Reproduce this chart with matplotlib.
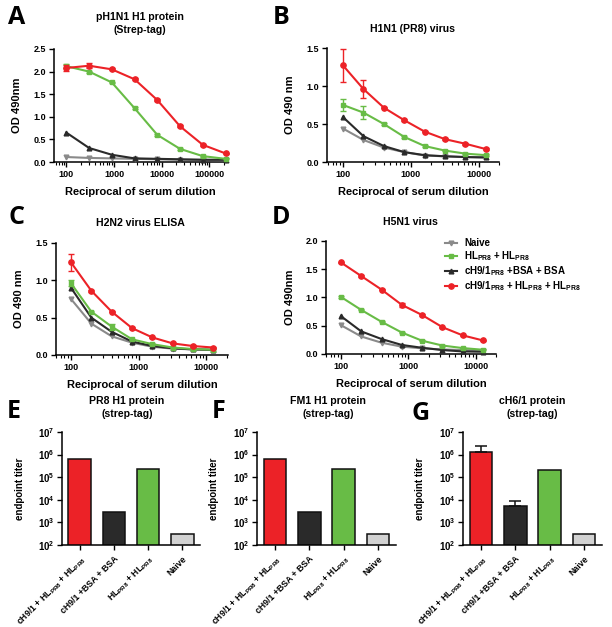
import matplotlib
matplotlib.use("Agg")
import matplotlib.pyplot as plt
import numpy as np
from matplotlib.ticker import FixedLocator, FixedFormatter, LogLocator, NullFormatter

plt.rcParams['font.family'] = ['Liberation Sans', 'DejaVu Sans']
plt.rcParams['font.weight'] = 'bold'
plt.rcParams['mathtext.fontset'] = 'custom'
plt.rcParams['mathtext.rm'] = 'Liberation Sans'
plt.rcParams['mathtext.bf'] = 'Liberation Sans:bold'
plt.rcParams['mathtext.it'] = 'Liberation Sans:italic'

W, H = 612, 627

# ---------------- data ----------------
dil3 = [100, 300, 900, 2700, 8100, 24300, 72900, 218700]
dil2 = [100, 200, 400, 800, 1600, 3200, 6400, 12800]

series_names = ["Naive",
                r"HL$_{\mathbf{PR8}}$ + HL$_{\mathbf{PR8}}$",
                r"cH9/1$_{\mathbf{PR8}}$ +BSA + BSA",
                r"cH9/1$_{\mathbf{PR8}}$ + HL$_{\mathbf{PR8}}$ + HL$_{\mathbf{PR8}}$"]

A_naive = [0.11, 0.09, 0.08, 0.07, 0.06, 0.05, 0.045, 0.04]
A_hl = [2.12, 2.00, 1.76, 1.19, 0.60, 0.29, 0.13, 0.07]
A_bsa = [0.65, 0.31, 0.16, 0.08, 0.07, 0.06, 0.05, 0.05]
A_ch = [2.08, 2.13, 2.05, 1.83, 1.37, 0.79, 0.38, 0.19]
A_ch_err = [0.07, 0.05, 0.02, 0.02, 0.02, 0.02, 0.02, 0.02]
A_hl_err = [0.04, 0.02, 0.02, 0.02, 0.02, 0.02, 0.01, 0.01]

B_naive = [0.44, 0.29, 0.19, 0.13, 0.085, 0.075, 0.065, 0.06]
B_hl = [0.75, 0.65, 0.50, 0.33, 0.21, 0.15, 0.11, 0.09]
B_bsa = [0.59, 0.34, 0.21, 0.13, 0.09, 0.075, 0.065, 0.06]
B_ch = [1.27, 0.96, 0.715, 0.55, 0.40, 0.30, 0.24, 0.17]
B_ch_err = [0.215, 0.115, 0.01, 0.01, 0.01, 0.01, 0.01, 0.01]
B_hl_err = [0.075, 0.09, 0.01, 0.01, 0.01, 0.01, 0.01, 0.01]

C_naive = [0.75, 0.42, 0.25, 0.165, 0.11, 0.085, 0.075, 0.065]
C_hl = [0.96, 0.58, 0.38, 0.21, 0.145, 0.10, 0.08, 0.07]
C_bsa = [0.90, 0.50, 0.31, 0.18, 0.12, 0.09, 0.075, 0.07]
C_ch = [1.24, 0.86, 0.58, 0.36, 0.235, 0.155, 0.12, 0.10]
C_ch_err = [0.11, 0.01, 0.01, 0.01, 0.01, 0.01, 0.01, 0.01]
C_hl_err = [0.04, 0.01, 0.04, 0.01, 0.01, 0.01, 0.01, 0.01]

D_naive = [0.51, 0.31, 0.20, 0.13, 0.10, 0.08, 0.07, 0.06]
D_hl = [1.01, 0.78, 0.57, 0.38, 0.235, 0.15, 0.105, 0.075]
D_bsa = [0.67, 0.40, 0.265, 0.16, 0.11, 0.07, 0.045, 0.04]
D_ch = [1.62, 1.38, 1.14, 0.87, 0.69, 0.475, 0.33, 0.24]
D_ch_err = [0.01, 0.01, 0.01, 0.04, 0.01, 0.01, 0.01, 0.01]
D_hl_err = [0.02, 0.01, 0.01, 0.01, 0.01, 0.01, 0.01, 0.01]

bar_labels = [r"cH9/1 + HL$_{\mathrm{PR8}}$ + HL$_{\mathrm{PR8}}$",
              "cH9/1 +BSA + BSA",
              r"HL$_{\mathrm{PR8}}$ + HL$_{\mathrm{PR8}}$",
              "Naive"]
E_titer = [6.6e5, 2.8e3, 2.2e5, 3.1e2]
F_titer = [6.6e5, 2.8e3, 2.2e5, 3.0e2]
G_titer = [1.35e6, 5.5e3, 2.15e5, 3.0e2]
G_err_up = [0.95e6, 3.6e3, 0, 0]

RED = '#ec2227'
GREEN = '#68bc46'
BLACK = '#2a2a2a'
GRAY = '#8a8a8a'
LIGHT = '#d2d2d2'


def box(l, t, r, b):
    return [l / W, 1 - b / H, (r - l) / W, (b - t) / H]


fig = plt.figure(figsize=(W / 100, H / 100), dpi=100)


def style_axes(ax, labelsize=6.5):
    for s in ['top', 'right']:
        ax.spines[s].set_visible(False)
    for s in ['left', 'bottom']:
        ax.spines[s].set_linewidth(1.1)
    ax.tick_params(which='major', direction='out', length=3.5, width=1.0,
                   labelsize=labelsize, pad=2)
    ax.tick_params(which='minor', direction='out', length=2, width=0.8)
    for lab in ax.get_xticklabels() + ax.get_yticklabels():
        lab.set_fontweight('bold')


def line_panel(rect, x, naive, hl, bsa, ch, ch_err, hl_err, xlim, ylim,
               yticks, xticks, ylabel):
    ax = fig.add_axes(box(*rect))
    ax.set_xscale('log')
    lw = 1.5
    ms = 3.4
    ax.errorbar(x, naive, color=GRAY, marker='v', ms=ms, lw=lw, zorder=3,
                clip_on=False)
    ax.errorbar(x, bsa, color=BLACK, marker='^', ms=ms, lw=lw, zorder=4,
                clip_on=False)
    ax.errorbar(x, hl, yerr=hl_err, color=GREEN, marker='s', ms=ms, lw=lw,
                capsize=2, elinewidth=1, zorder=5, clip_on=False)
    ax.errorbar(x, ch, yerr=ch_err, color=RED, marker='o', ms=ms + 0.4, lw=lw,
                capsize=2, elinewidth=1, zorder=6, clip_on=False)
    ax.set_xlim(*xlim)
    ax.set_ylim(*ylim)
    ax.set_yticks(yticks)
    ax.set_yticklabels([f"{v:.1f}" for v in yticks])
    ax.xaxis.set_major_locator(FixedLocator(xticks))
    ax.xaxis.set_major_formatter(FixedFormatter([str(v) for v in xticks]))
    ax.xaxis.set_minor_locator(LogLocator(base=10, subs=np.arange(2, 10)))
    ax.xaxis.set_minor_formatter(NullFormatter())
    style_axes(ax)
    ax.set_xlabel("Reciprocal of serum dilution", fontsize=8, fontweight='bold')
    ax.xaxis.set_label_coords(0.5, -0.22)
    ax.set_ylabel(ylabel, fontsize=8, fontweight='bold')
    ax.yaxis.set_label_coords(-0.185, 0.5)
    return ax


axA = line_panel((54, 49, 227, 162), dil3, A_naive, A_hl, A_bsa, A_ch,
                 A_ch_err, A_hl_err, (55, 235000), (0, 2.5),
                 [0.0, 0.5, 1.0, 1.5, 2.0, 2.5], [100, 1000, 10000, 100000],
                 "OD 490nm")
axB = line_panel((327, 48, 499, 162), dil2, B_naive, B_hl, B_bsa, B_ch,
                 B_ch_err, B_hl_err, (58, 20000), (0, 1.5),
                 [0.0, 0.5, 1.0, 1.5], [100, 1000, 10000], "OD 490 nm")
axC = line_panel((56, 243, 228, 355), dil2, C_naive, C_hl, C_bsa, C_ch,
                 C_ch_err, C_hl_err, (60, 21000), (0, 1.5),
                 [0.0, 0.5, 1.0, 1.5], [100, 1000, 10000], "OD 490 nm")
axD = line_panel((326, 241, 496, 354), dil2, D_naive, D_hl, D_bsa, D_ch,
                 D_ch_err, D_hl_err, (60, 20000), (0, 2.0),
                 [0.0, 0.5, 1.0, 1.5, 2.0], [100, 1000, 10000], "OD 490nm")

# legend (in panel D)
handles = [
    plt.Line2D([], [], color=GRAY, marker='v', ms=3.4, lw=1.5),
    plt.Line2D([], [], color=GREEN, marker='s', ms=3.4, lw=1.5),
    plt.Line2D([], [], color=BLACK, marker='^', ms=3.4, lw=1.5),
    plt.Line2D([], [], color=RED, marker='o', ms=3.8, lw=1.5),
]
fig.legend(handles, series_names, loc='upper left',
           bbox_to_anchor=(445 / W, 1 - 238 / H), frameon=False,
           prop={'size': 7, 'weight': 'bold'}, handlelength=1.2,
           handletextpad=0.8, labelspacing=0.12, borderaxespad=0,
           borderpad=0)


def title(x, y, s, size=7.6):
    fig.text(x / W, 1 - y / H, s, ha='center', va='center', fontsize=size,
             fontweight='bold')


title(140, 17, "pH1N1 H1 protein")
title(140, 30, "(Strep-tag)")
title(413, 29, "H1N1 (PR8) virus")
title(140, 223, "H2N2 virus ELISA")
title(410, 222, "H5N1 virus")


def bar_panel(rect, vals, err_up, t1, t2, tx):
    ax = fig.add_axes(box(*rect))
    xs = np.arange(len(vals))
    colors = [RED, BLACK, GREEN, LIGHT]
    ax.bar(xs, vals, width=0.66, color=colors, edgecolor='#111111',
           linewidth=1.1, zorder=2)
    if err_up is not None:
        for xi, v, e in zip(xs, vals, err_up):
            if e > 0:
                ax.errorbar([xi], [v], yerr=[[0], [e]], color='#111111',
                            capsize=4, elinewidth=1.1, capthick=1.1, zorder=3)
    ax.set_yscale('log')
    ax.set_ylim(1e2, 1e7)
    ax.set_xlim(-0.52, 3.52)
    ax.yaxis.set_major_locator(FixedLocator([1e2, 1e3, 1e4, 1e5, 1e6, 1e7]))
    ax.yaxis.set_major_formatter(FixedFormatter(
        [r"$\mathbf{10^{%d}}$" % k for k in range(2, 8)]))
    ax.yaxis.set_minor_locator(LogLocator(base=10, subs=np.arange(2, 10)))
    ax.yaxis.set_minor_formatter(NullFormatter())
    ax.set_xticks(xs)
    ax.set_xticklabels(bar_labels, rotation=45, ha='right',
                       rotation_mode='anchor', fontsize=6.3, fontweight='bold')
    style_axes(ax, labelsize=7)
    ax.tick_params(axis='x', labelsize=6.3, pad=3)
    ax.set_ylabel("endpoint titer", fontsize=7, fontweight='bold')
    ax.yaxis.set_label_coords(-0.27, 0.5)
    title(tx, 401, t1)
    title(tx, 414, t2)
    return ax


bar_panel((62, 432, 200, 545), E_titer, None, "PR8 H1 protein", "(strep-tag)", 127)
bar_panel((257, 432, 396, 545), F_titer, None, "FM1 H1 protein", "(strep-tag)", 328)
bar_panel((463, 432, 602, 545), G_titer, G_err_up, "cH6/1 protein", "(strep-tag)", 532)

# panel letters
for letter, x, y in [("A", 17, 17), ("B", 281, 17), ("C", 17, 218),
                     ("D", 281, 218), ("E", 14, 412), ("F", 219, 412),
                     ("G", 421, 413)]:
    fig.text(x / W, 1 - y / H, letter, ha='center', va='center',
             fontsize=18, fontweight='bold', family=['Open Sans', 'DejaVu Sans'])

fig.savefig("out.png", dpi=100)
